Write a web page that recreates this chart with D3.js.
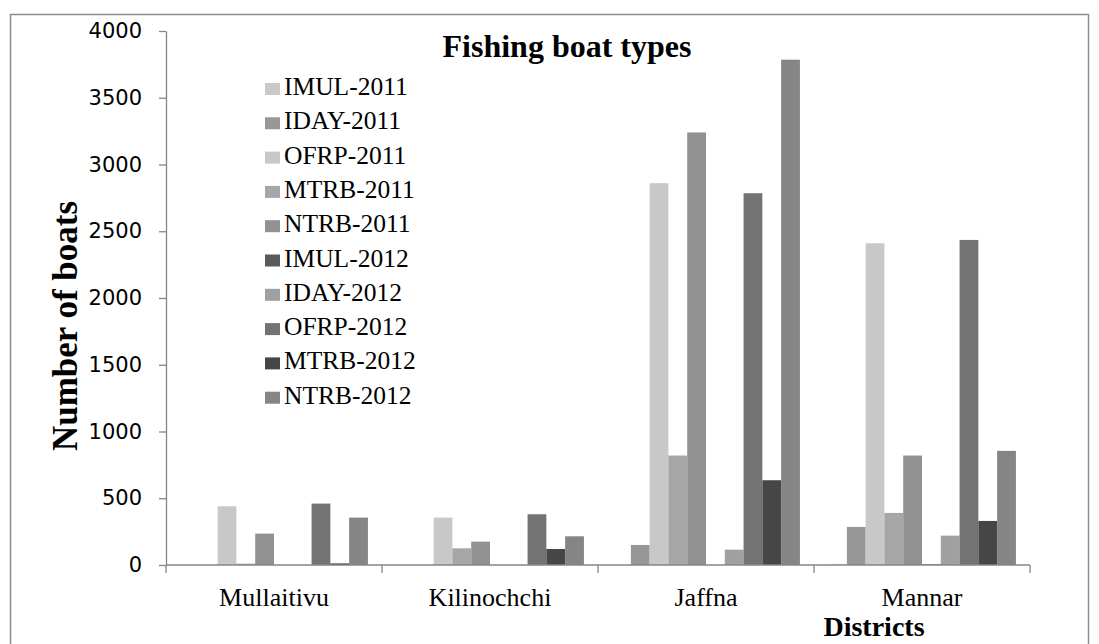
<!DOCTYPE html>
<html>
<head>
<meta charset="utf-8">
<script src="https://cdn.jsdelivr.net/npm/d3@7"></script>
<style>
  html, body { margin: 0; padding: 0; background: #fff; }
  svg { display: block; }
</style>
</head>
<body>
<svg id="chart" width="1099" height="644"></svg>
<script>
// Districts along the x axis
const districts = ["Mullaitivu", "Kilinochchi", "Jaffna", "Mannar"];

// Boat types per year (legend order)
const seriesNames = ["IMUL-2011", "IDAY-2011", "OFRP-2011", "MTRB-2011", "NTRB-2011",
                     "IMUL-2012", "IDAY-2012", "OFRP-2012", "MTRB-2012", "NTRB-2012"];

// Number of boats, one value per district
const imul2011 = [0, 0, 0, 5];
const iday2011 = [0, 0, 150, 285];
const ofrp2011 = [440, 355, 2860, 2410];
const mtrb2011 = [10, 125, 820, 390];
const ntrb2011 = [235, 175, 3240, 820];
const imul2012 = [0, 0, 0, 5];
const iday2012 = [0, 0, 115, 220];
const ofrp2012 = [460, 380, 2785, 2435];
const mtrb2012 = [12, 120, 635, 330];
const ntrb2012 = [355, 215, 3785, 855];

const yTicks = [0, 500, 1000, 1500, 2000, 2500, 3000, 3500, 4000];

const seriesValues = [imul2011, iday2011, ofrp2011, mtrb2011, ntrb2011,
                      imul2012, iday2012, ofrp2012, mtrb2012, ntrb2012];

const colors = ["#c9c9c9", "#979797", "#c8c8c8", "#a6a6a6", "#919191",
                "#5a5a5a", "#a0a0a0", "#737373", "#464646", "#858585"];

const serif = "'Liberation Serif', 'Times New Roman', serif";
const sans = "'DejaVu Sans', sans-serif";

const svg = d3.select("#chart");

// Chart area border
svg.append("rect")
  .attr("x", 10.5).attr("y", 14.5)
  .attr("width", 1078).attr("height", 640)
  .attr("fill", "none").attr("stroke", "#8c8c8c").attr("stroke-width", 1.5);

const plot = { left: 166, right: 1030, top: 31, bottom: 565 };

const x0 = d3.scaleBand().domain(districts).range([plot.left, plot.right]).padding(0);
const x1 = d3.scaleBand().domain(seriesNames).range([0, x0.bandwidth()])
  .paddingInner(0).paddingOuter(0.75);
const y = d3.scaleLinear().domain([0, 4000]).range([plot.bottom, plot.top]);

// Bars
const table = districts.map((d, i) => ({
  district: d,
  values: seriesNames.map((s, j) => ({ series: s, value: seriesValues[j][i], color: colors[j] }))
}));

const groups = svg.append("g").selectAll("g").data(table).join("g")
  .attr("transform", d => `translate(${x0(d.district)},0)`);
groups.selectAll("rect").data(d => d.values).join("rect")
  .attr("x", d => x1(d.series))
  .attr("width", x1.bandwidth())
  .attr("y", d => y(d.value))
  .attr("height", d => y(0) - y(d.value))
  .attr("fill", d => d.color);

// Y axis
const yAxis = svg.append("g")
  .attr("transform", `translate(${plot.left},0)`)
  .call(d3.axisLeft(y).tickValues(yTicks).tickFormat(d3.format("d"))
    .tickSizeInner(7).tickSizeOuter(0).tickPadding(17));
yAxis.select(".domain").attr("stroke", "#868686").attr("stroke-width", 1.3);
yAxis.selectAll(".tick line").attr("stroke", "#868686").attr("stroke-width", 1.3);
yAxis.selectAll(".tick text")
  .attr("font-family", sans).attr("font-size", 21).attr("fill", "#000");

// X axis with ticks between categories
const xAxisG = svg.append("g").attr("transform", `translate(0,${plot.bottom})`);
xAxisG.append("line")
  .attr("x1", plot.left).attr("x2", plot.right)
  .attr("stroke", "#868686").attr("stroke-width", 1.5);
const boundaries = districts.map(d => x0(d)).concat([x0(districts[districts.length - 1]) + x0.bandwidth()]);
xAxisG.selectAll("line.tick").data(boundaries).join("line")
  .attr("class", "tick")
  .attr("x1", d => d).attr("x2", d => d)
  .attr("y1", 0).attr("y2", 8)
  .attr("stroke", "#868686").attr("stroke-width", 1.3);
xAxisG.selectAll("text").data(districts).join("text")
  .attr("x", d => x0(d) + x0.bandwidth() / 2)
  .attr("y", 41)
  .attr("text-anchor", "middle")
  .attr("font-family", serif).attr("font-size", 26).attr("fill", "#000")
  .text(d => d);

// Title
svg.append("text")
  .attr("x", 567).attr("y", 57)
  .attr("text-anchor", "middle")
  .attr("font-family", serif).attr("font-size", 32).attr("font-weight", "bold")
  .text("Fishing boat types");

// Axis titles
svg.append("text")
  .attr("x", 874).attr("y", 636)
  .attr("text-anchor", "middle")
  .attr("font-family", serif).attr("font-size", 28).attr("font-weight", "bold")
  .text("Districts");

svg.append("text")
  .attr("transform", "translate(77,326) rotate(-90)")
  .attr("text-anchor", "middle")
  .attr("font-family", serif).attr("font-size", 35).attr("font-weight", "bold")
  .text("Number of boats");

// Legend
const legend = svg.append("g").selectAll("g").data(seriesNames).join("g")
  .attr("transform", (d, i) => `translate(265,${95 + i * 34.3})`);
legend.append("rect")
  .attr("x", 0).attr("y", -12)
  .attr("width", 15).attr("height", 12)
  .attr("fill", (d, i) => colors[i]);
legend.append("text")
  .attr("x", 19).attr("y", 0)
  .attr("font-family", serif).attr("font-size", 25.5).attr("fill", "#000")
  .text(d => d);
</script>
</body>
</html>
